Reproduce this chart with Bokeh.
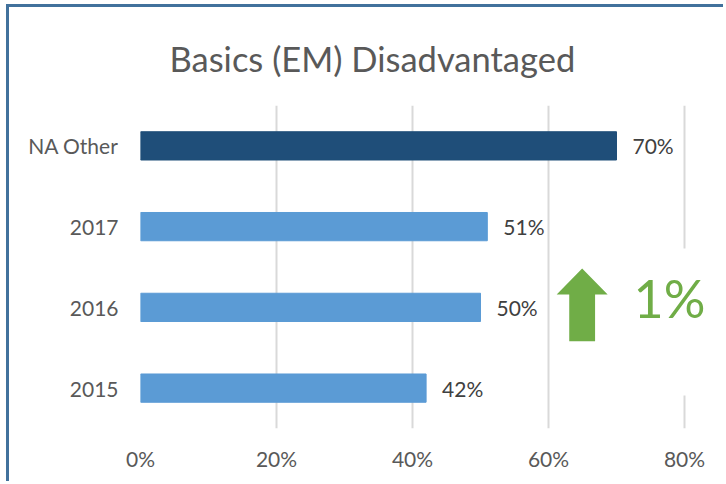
from bokeh.plotting import figure
from bokeh.models import (FactorRange, Range1d, FixedTicker, NumeralTickFormatter,
                          ColumnDataSource, Label, PolyAnnotation, BoxAnnotation, Title)
from bokeh.core.properties import value
from bokeh.embed import file_html
from bokeh.resources import INLINE

categories = ["2015", "2016", "2017", "NA Other"]
values = [0.42, 0.50, 0.51, 0.70]
labels = ["42%", "50%", "51%", "70%"]
colors = ["#5B9BD5", "#5B9BD5", "#5B9BD5", "#1F4E79"]
x_ticks = [0, 0.2, 0.4, 0.6, 0.8]
title_text = "Basics (EM) Disadvantaged"
change_text = "1%"

FONT = "Lato"
GREY = "#595959"

src = ColumnDataSource(dict(cat=categories, val=values, lab=labels, col=colors))

p = figure(width=717, height=477, y_range=FactorRange(*categories, range_padding=0),
           x_range=Range1d(0, 0.85), output_backend="svg", toolbar_location=None,
           min_border_left=131, min_border_right=8, min_border_top=98, min_border_bottom=56,
           styles={"border-left": "3px solid #41719C", "border-top": "3px solid #41719C",
                   "margin-left": "6px", "margin-top": "4px"})
p.outline_line_color = None
p.background_fill_color = "white"

p.title = Title(text=title_text, text_font=FONT, text_font_size="34.5px",
                text_font_style="normal", text_color=GREY, align="left", offset=29,
                standoff=54, text_line_height=0.6)

p.hbar(y="cat", right="val", left=0, height=0.35, color="col", source=src)
p.text(x="val", y="cat", text="lab", source=src, x_offset=16, text_baseline="middle",
       text_align="left", text_font=value(FONT), text_font_size="21px", text_color="#404040")

p.xaxis.ticker = FixedTicker(ticks=x_ticks)
p.xaxis.formatter = NumeralTickFormatter(format="0%")
for ax in (p.xaxis[0], p.yaxis[0]):
    ax.axis_line_color = None
    ax.major_tick_line_color = None
    ax.minor_tick_line_color = None
    ax.major_label_text_font = FONT
    ax.major_label_text_font_size = "21px"
    ax.major_label_text_color = GREY
p.xaxis.major_label_standoff = 11
p.yaxis.major_label_standoff = 16

p.ygrid.grid_line_color = None
p.xgrid.grid_line_color = "#D9D9D9"
p.xgrid.grid_line_width = 2

# white box hiding part of the 80% gridline behind the change label
p.add_layout(BoxAnnotation(left=0.72, right=0.85, bottom=0.41, top=2.23,
                           fill_color="white", fill_alpha=1, line_color=None))

# green up arrow
ax_c, shaft_hw, head_hw = 0.6495, 0.019, 0.0375
y_tip, y_base, y_bot = 1.98, 1.66, 1.08
p.add_layout(PolyAnnotation(
    xs=[ax_c - shaft_hw, ax_c - shaft_hw, ax_c - head_hw, ax_c, ax_c + head_hw, ax_c + shaft_hw, ax_c + shaft_hw],
    ys=[y_bot, y_base, y_base, y_tip, y_base, y_base, y_bot],
    fill_color="#70AD47", fill_alpha=1, line_color=None))

p.add_layout(Label(x=0.725, y=1.61, text=change_text, text_font=FONT, text_font_size="52px",
                   text_color="#70AD47", text_baseline="middle", text_align="left"))

open("out.html", "w").write(file_html(p, INLINE))
